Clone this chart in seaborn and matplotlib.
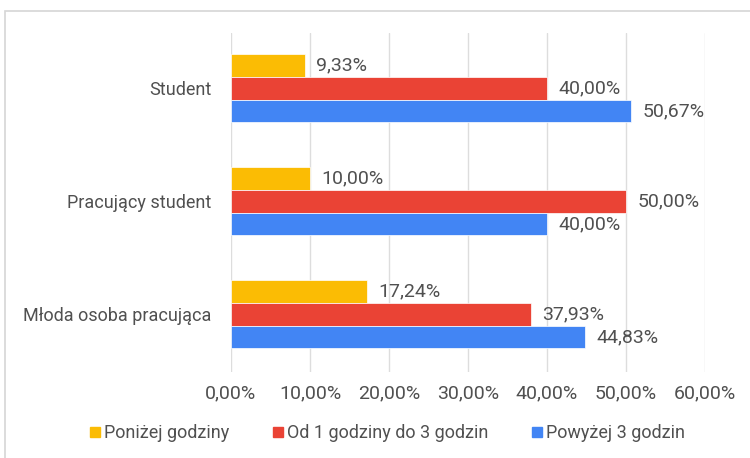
import matplotlib
matplotlib.use("Agg")
import matplotlib.pyplot as plt
from matplotlib.patches import Rectangle
from matplotlib.lines import Line2D
import seaborn as sns
import pandas as pd

categories = ["Student", "Pracujący student", "Młoda osoba pracująca"]
series_names = ["Poniżej godziny", "Od 1 godziny do 3 godzin", "Powyżej 3 godzin"]
below_1h = [9.33, 10.00, 17.24]
from_1_to_3h = [40.00, 50.00, 37.93]
above_3h = [50.67, 40.00, 44.83]
x_ticks = [0, 10, 20, 30, 40, 50, 60]
colors = ["#FBBC04", "#EA4335", "#4285F4"]

rows = []
for name, vals in zip(series_names, [below_1h, from_1_to_3h, above_3h]):
    for cat, v in zip(categories, vals):
        rows.append({"kategoria": cat, "seria": name, "wartosc": v})
df = pd.DataFrame(rows)

sns.set_theme(style="white")
plt.rcParams["font.family"] = ["Roboto", "DejaVu Sans"]
text_color = "#505050"
label_size = 13
number_size = 14


def pct(v):
    return f"{v:.2f}".replace(".", ",") + "%"


fig = plt.figure(figsize=(7.5, 4.58), dpi=100)
ax = fig.add_axes([231 / 750, 1 - 372 / 458, (705 - 231) / 750, (372 - 33) / 458])

sns.barplot(data=df, y="kategoria", x="wartosc", hue="seria",
            order=categories, hue_order=series_names, palette=colors,
            orient="h", width=0.6, saturation=1, ax=ax, legend=False,
            edgecolor="white", linewidth=0.5)

for cont in ax.containers:
    ax.bar_label(cont, labels=[pct(v) for v in cont.datavalues], padding=8,
                 fontsize=number_size, color=text_color)

ax.set_xlim(0, 60)
ax.set_ylim(2.51, -0.49)
ax.set_xticks(x_ticks)
ax.set_xticklabels([pct(t) for t in x_ticks])
ax.grid(axis="x", color="#dddddd", linewidth=1)
ax.set_axisbelow(True)
for s in ax.spines.values():
    s.set_visible(False)
ax.tick_params(axis="both", length=0, labelcolor=text_color)
ax.tick_params(axis="x", pad=9, labelsize=number_size)
ax.tick_params(axis="y", pad=14, labelsize=label_size)
ax.set_xlabel("")
ax.set_ylabel("")

# outer frame
fig.patches.append(Rectangle((5 / 750, -0.1), 1.2, 1 - 11 / 458 + 0.1,
                             transform=fig.transFigure, fill=False,
                             edgecolor="#d6d6d6", linewidth=1.2))

handles = [Line2D([], [], marker="s", linestyle="", markersize=7,
                  markerfacecolor=c, markeredgecolor=c) for c in colors]
fig.legend(handles, series_names, loc="center", bbox_to_anchor=(386 / 750, 1 - 433 / 458),
           ncol=3, frameon=False, fontsize=label_size, handletextpad=0.1,
           columnspacing=2.3, labelcolor=text_color, handlelength=0.8)

fig.savefig("out.png", dpi=100)
